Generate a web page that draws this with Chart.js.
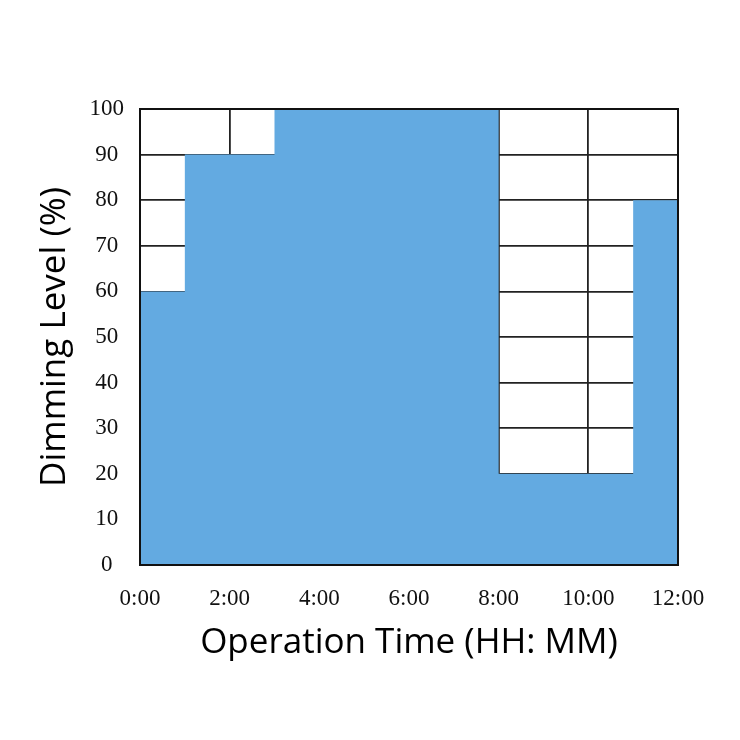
<!DOCTYPE html>
<html>
<head>
<meta charset="utf-8">
<script src="https://cdn.jsdelivr.net/npm/chart.js@4/dist/chart.umd.min.js"></script>
<style>
  html, body { margin: 0; padding: 0; background: #ffffff; }
  #wrap { width: 740px; height: 740px; position: relative; }
</style>
</head>
<body>
<div id="wrap"><canvas id="c" width="740" height="740"></canvas></div>
<script>
// Step start times (hours) and dimming level (%) from each start
const hours = [0, 1, 3, 8, 11, 12];
const dimming = [60, 90, 100, 20, 80, 80];
const xTitle = 'Operation Time (HH: MM)';
const yTitle = 'Dimming Level (%)';

const points = hours.map((h, i) => ({ x: h, y: dimming[i] }));

const framePlugin = {
  id: 'frame',
  afterDatasetsDraw(chart) {
    const a = chart.chartArea;
    const ctx = chart.ctx;
    ctx.save();
    ctx.strokeStyle = '#111111';
    ctx.lineWidth = 2;
    ctx.strokeRect(a.left, a.top, a.right - a.left, a.bottom - a.top);
    ctx.restore();
  }
};

const tickFont = { family: '"Liberation Serif", "DejaVu Serif", serif', size: 23 };
const titleFont = { family: '"Open Sans", "Noto Sans", sans-serif', size: 35 };

new Chart(document.getElementById('c'), {
  type: 'line',
  data: {
    datasets: [{
      data: points,
      stepped: true,
      fill: 'origin',
      backgroundColor: 'rgb(99,170,225)',
      borderWidth: 0,
      borderColor: 'rgba(0,0,0,0)',
      pointRadius: 0
    }]
  },
  options: {
    responsive: false,
    animation: false,
    layout: { padding: { top: 109, right: 62, bottom: 0, left: 0 } },
    plugins: { legend: { display: false }, tooltip: { enabled: false } },
    scales: {
      x: {
        type: 'linear',
        min: 0, max: 12,
        afterFit(scale) { scale.height = 175; },
        grid: { color: '#222222', lineWidth: 1.8, drawTicks: false },
        border: { display: false },
        ticks: {
          stepSize: 2,
          padding: 20,
          color: '#111111',
          font: tickFont,
          maxRotation: 0,
          callback: (v) => v + ':00'
        },
        title: {
          display: true,
          text: xTitle,
          color: '#000000',
          font: titleFont,
          padding: { top: 0, bottom: 76 }
        }
      },
      y: {
        min: 0, max: 100,
        afterFit(scale) { scale.width = 140; },
        grid: { color: '#222222', lineWidth: 1.8, drawTicks: false },
        border: { display: false },
        ticks: {
          stepSize: 10,
          padding: 16,
          crossAlign: 'center',
          color: '#111111',
          font: tickFont
        },
        title: {
          display: true,
          text: yTitle,
          color: '#000000',
          font: titleFont,
          padding: { top: 34, bottom: 0 }
        }
      }
    }
  },
  plugins: [framePlugin]
});
</script>
</body>
</html>
